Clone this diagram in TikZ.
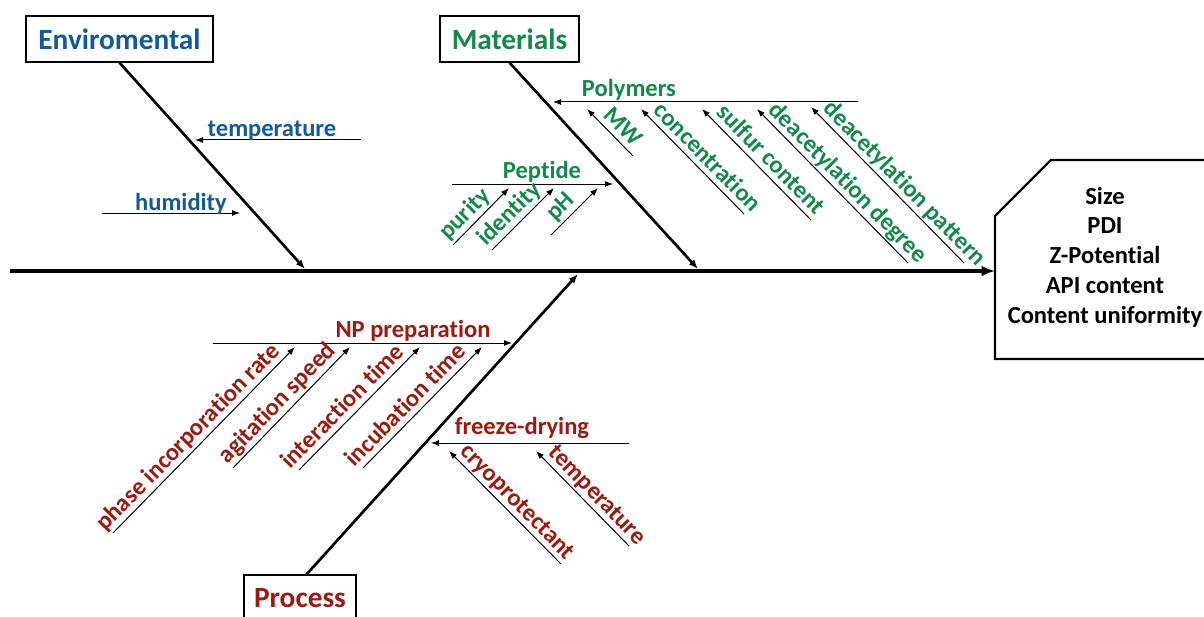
\documentclass[tikz,border=0pt]{standalone}
\usepackage{fontspec}
\setmainfont{Carlito}[Ligatures={NoCommon}]
\usetikzlibrary{arrows.meta}
\definecolor{envblue}{HTML}{125A97}
\definecolor{matgreen}{HTML}{138A4A}
\definecolor{procred}{HTML}{9C1A0E}
\newcommand{\lab}{\fontsize{18.4}{22}\selectfont\bfseries}
\newcommand{\ttl}{\fontsize{22}{26}\selectfont\bfseries}
\tikzset{
  titlebox/.style={draw, line width=1pt, font=\ttl, inner sep=0pt, minimum height=34.5pt},
  spine/.style={line width=3.3pt, -{Latex[length=10pt,width=8pt]}},
  bone/.style={line width=2pt, -{Latex[length=7pt,width=5.5pt]}},
  sub/.style={line width=0.75pt, -{Latex[length=6pt,width=4.5pt]}},
  slab/.style={sloped, anchor=south, inner xsep=0pt, inner ysep=4.6pt, outer sep=0pt, text depth=0pt, font=\lab},
  hlab/.style={anchor=base, inner sep=0pt, font=\lab},
}
\begin{document}
\begin{tikzpicture}[x=0.75pt,y=-0.75pt]
\clip (0,0) rectangle (1204,617);
\fill[white] (0,0) rectangle (1204,617);

% title boxes
\node[titlebox, text=envblue, minimum width=140.25pt] (env) at (119.5,39) {Enviromental};
\node[titlebox, text=matgreen, minimum width=104.25pt] (mat) at (509.5,39) {Materials};
\node[titlebox, text=procred, minimum width=84pt] (proc) at (300,598) {Process};

% effect box
\coordinate (effin) at (995,271);
\draw[line width=1.8pt, line join=miter] (995,216) -- (1051,160) -- (1215,160) -- (1215,359) -- (995,359) -- cycle;
\node[font=\fontsize{18.4}{22.3}\selectfont\bfseries, align=center, inner sep=0pt] (effect) at (1105,257)
  {Size\\PDI\\Z-Potential\\API content\\Content uniformity};

% spine
\coordinate (sp0) at (10,271);
\draw[spine] (sp0) -- (effin);

% bones
\coordinate (envtip) at (305,269);
\coordinate (mattip) at (698,269);
\coordinate (procbase) at (306,575);
\coordinate (proctip) at (578,274);
\draw[bone] (env.south) -- (envtip);
\draw[bone] (mat.south) -- (mattip);
\draw[bone] (procbase) -- (proctip);

% ---------- Environmental ----------
\coordinate (et0) at (361,140); \coordinate (et1) at (195,140);
\draw[sub] (et0) -- (et1);
\node[hlab, text=envblue] (etl) at (272,136.5) {temperature};
\coordinate (eh0) at (102,213); \coordinate (eh1) at (240,213);
\draw[sub] (eh0) -- (eh1);
\node[hlab, text=envblue] (ehl) at (181,210) {humidity};

% ---------- Materials ----------
\coordinate (po0) at (858,102); \coordinate (po1) at (553,102);
\draw[sub] (po0) -- (po1);
\node[hlab, text=matgreen] (pol) at (629,97) {Polymers};

\coordinate (mw0) at (633,156); \coordinate (mw1) at (587,109);
\draw[sub] (mw0) -- node[slab, pos=.42, text=matgreen] (mwl) {MW} (mw1);
\coordinate (co0) at (744,214); \coordinate (co1) at (641,109);
\draw[sub] (co0) -- node[slab, pos=.45, text=matgreen] (col) {concentration} (co1);
\coordinate (su0) at (811,220); \coordinate (su1) at (702,109);
\draw[sub] (su0) -- node[slab, pos=.46, text=matgreen] (sul) {sulfur content} (su1);
\coordinate (dd0) at (908,263); \coordinate (dd1) at (757,109);
\draw[sub] (dd0) -- node[slab, pos=.46, text=matgreen] (ddl) {deacetylation degree} (dd1);
\coordinate (dp0) at (964,263); \coordinate (dp1) at (811,107);
\draw[sub] (dp0) -- node[slab, pos=.45, text=matgreen] (dpl) {deacetylation pattern} (dp1);

\coordinate (pe0) at (452,184); \coordinate (pe1) at (613,184);
\draw[sub] (pe0) -- (pe1);
\node[hlab, text=matgreen] (pel) at (542,178) {Peptide};

\coordinate (pu0) at (453,245); \coordinate (pu1) at (509,188);
\draw[sub] (pu0) -- node[slab, pos=.38, text=matgreen] (pul) {purity} (pu1);
\coordinate (id0) at (492,250); \coordinate (id1) at (554,188);
\draw[sub] (id0) -- node[slab, pos=.43, text=matgreen] (idl) {identity} (id1);
\coordinate (ph0) at (551,235); \coordinate (ph1) at (598,188);
\draw[sub] (ph0) -- node[slab, pos=.4, text=matgreen] (phl) {pH} (ph1);

% ---------- Process ----------
\coordinate (np0) at (213,343); \coordinate (np1) at (512,343);
\draw[sub] (np0) -- (np1);
\node[hlab, text=procred] (npl) at (413,337) {NP preparation};

\coordinate (pi0) at (113,533); \coordinate (pi1) at (295,347);
\draw[sub] (pi0) -- node[slab, pos=.465, text=procred] (pil) {phase incorporation rate} (pi1);
\coordinate (ag0) at (233,468); \coordinate (ag1) at (350,347);
\draw[sub] (ag0) -- node[slab, pos=.46, text=procred] (agl) {agitation speed} (ag1);
\coordinate (it0) at (299,470); \coordinate (it1) at (420,347);
\draw[sub] (it0) -- node[slab, pos=.44, text=procred] (itl) {interaction time} (it1);
\coordinate (ib0) at (363,468); \coordinate (ib1) at (482,347);
\draw[sub] (ib0) -- node[slab, pos=.44, text=procred] (ibl) {incubation time} (ib1);

\coordinate (fd0) at (629,443); \coordinate (fd1) at (431,443);
\draw[sub] (fd0) -- (fd1);
\node[hlab, text=procred] (fdl) at (522,434) {freeze-drying};

\coordinate (cr0) at (561,564); \coordinate (cr1) at (449,451);
\draw[sub] (cr0) -- node[slab, pos=.47, text=procred] (crl) {cryoprotectant} (cr1);
\coordinate (tp0) at (629,546); \coordinate (tp1) at (536,451);
\draw[sub] (tp0) -- node[slab, pos=.44, text=procred] (tpl) {temperature} (tp1);
\end{tikzpicture}
\end{document}
